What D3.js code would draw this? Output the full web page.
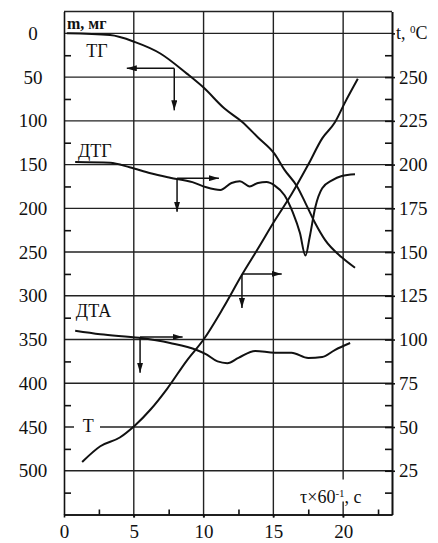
<!DOCTYPE html>
<html>
<head>
<meta charset="utf-8">
<script src="https://cdn.jsdelivr.net/npm/d3@7"></script>
<style>
    body { margin: 0; background: #fff; }
    text { font-family: "Liberation Serif", "Times New Roman", serif; fill: #111; }
    .axis path, .axis line { stroke: #111; stroke-width: 1.6; }
    .grid line { stroke: #222; stroke-width: 1.4; }
    .curve { fill: none; stroke: #111; stroke-width: 2; }
</style>
</head>
<body>
<script>
// values (time in min, TG/DTG/DTA on mass scale, T in deg C)
let tgTime = [0.2, 3.3, 5.1, 6.9, 8.8, 10, 11.5, 12.75, 13.9, 15.1, 15.8, 16.7, 17.3, 18.0, 18.7, 19.9, 20.85];
let tgMass = [0, 2, 10, 23, 46, 62, 86, 101, 119, 138, 156, 175, 194, 217, 236, 256, 268];

let dtgTime = [0.8, 3.3, 4.7, 6.2, 7.6, 9.2, 10.2, 11.2, 12.0, 12.6, 13.3, 13.9, 14.5, 15.1, 15.8, 16.4, 16.9, 17.3, 17.6, 18.0, 18.5, 19.2, 19.9, 20.85];
let dtgVal = [147, 148, 153, 160, 165, 170, 176, 179, 171, 169, 175, 171, 170, 174, 185, 205, 228, 254, 233, 199, 177, 168, 163, 161];

let dtaTime = [0.8, 2.6, 5.4, 7.6, 9.5, 10.2, 11.0, 11.7, 12.5, 13.7, 15.1, 16.3, 17.5, 18.5, 19.4, 20.5];
let dtaVal = [340, 344, 348, 354, 362, 367, 375, 377, 371, 363, 365, 365, 371, 370, 362, 354];

let tTime = [1.3, 2.6, 4.0, 5.1, 6.2, 7.4, 8.8, 10.0, 11.4, 12.75, 13.9, 15.1, 16.3, 17.5, 18.5, 19.4, 20.1, 21.05];
let tTemp = [30, 39, 44, 51, 60, 72, 88, 100, 118, 137, 152, 168, 183, 200, 215, 224, 235, 249];

let massTicks = [0, 50, 100, 150, 200, 250, 300, 350, 400, 450, 500];
let tempTicks = [25, 50, 75, 100, 125, 150, 175, 200, 225, 250];
let timeTicks = [0, 5, 10, 15, 20];

let width = 438, height = 543;

let x = d3.scaleLinear().domain([0, 23.5]).range([64, 392]);
let yL = d3.scaleLinear().domain([-25, 550]).range([11.5, 514.5]);
let yR = d3.scaleLinear().domain([287.5, 0]).range([11.5, 514.5]);

let svg = d3.select("body")
    .append("svg")
    .attr("width", width)
    .attr("height", height);

let defs = svg.append("defs");
defs.append("marker")
    .attr("id", "head")
    .attr("viewBox", "0 0 10 6")
    .attr("refX", 10)
    .attr("refY", 3)
    .attr("markerWidth", 10)
    .attr("markerHeight", 6)
    .attr("markerUnits", "userSpaceOnUse")
    .attr("orient", "auto")
    .append("path")
    .attr("d", "M0,0 L10,3 L0,6 Z")
    .attr("fill", "#111");

// grid
let grid = svg.append("g").attr("class", "grid");
grid.selectAll(".h")
    .data([-25].concat(massTicks))
    .enter().append("line")
    .attr("x1", x(0)).attr("x2", x(23.5))
    .attr("y1", d => yL(d)).attr("y2", d => yL(d));
grid.selectAll(".v")
    .data(timeTicks.slice(1))
    .enter().append("line")
    .attr("x1", d => x(d)).attr("x2", d => x(d))
    .attr("y1", yL(-25)).attr("y2", yL(550) + 3);

// left axis
let minorMass = d3.range(25, 526, 50);
svg.append("g")
    .attr("class", "axis")
    .attr("transform", "translate(" + x(0) + ",0)")
    .call(d3.axisLeft(yL).tickValues(minorMass).tickSize(-7).tickSizeOuter(0).tickFormat(""));
let left = svg.append("g")
    .attr("class", "axis")
    .attr("transform", "translate(" + x(0) + ",0)")
    .call(d3.axisLeft(yL).tickValues(massTicks).tickSize(0).tickSizeOuter(0).tickPadding(31));
left.selectAll("text")
    .style("font-size", "19px")
    .attr("font-family", null)
    .attr("text-anchor", "middle");
left.select(".domain").remove();

// right axis
let minorTemp = d3.range(12.5, 275, 25);
svg.append("g")
    .attr("class", "axis")
    .attr("transform", "translate(" + x(23.5) + ",0)")
    .call(d3.axisRight(yR).tickValues(minorTemp.concat(tempTicks)).tickSize(-7).tickSizeOuter(0).tickFormat(""));
let right = svg.append("g")
    .attr("class", "axis")
    .attr("transform", "translate(" + x(23.5) + ",0)")
    .call(d3.axisRight(yR).tickValues(tempTicks.concat([275])).tickSize(3).tickSizeOuter(0).tickPadding(4)
        .tickFormat(d => d === 275 ? "" : d));
right.selectAll("text").style("font-size", "19px").attr("font-family", null);

// bottom axis
let minorTime = d3.range(2.5, 23, 5);
svg.append("g")
    .attr("class", "axis")
    .attr("transform", "translate(0," + yL(550) + ")")
    .call(d3.axisBottom(x).tickValues(minorTime).tickSize(-5).tickSizeOuter(0).tickFormat(""));
let bottom = svg.append("g")
    .attr("class", "axis")
    .attr("transform", "translate(0," + yL(550) + ")")
    .call(d3.axisBottom(x).tickValues(timeTicks).tickSize(3).tickSizeOuter(0).tickPadding(7));
bottom.selectAll("text").style("font-size", "19px").attr("font-family", null);

// label backgrounds that break the grid
svg.append("rect")
    .attr("x", 74).attr("y", yL(450) - 8)
    .attr("width", 26).attr("height", 16)
    .attr("fill", "#fff");
svg.append("rect")
    .attr("x", 298).attr("y", yL(510))
    .attr("width", 82).attr("height", 22)
    .attr("fill", "#fff");

// curves
let line = d3.line().curve(d3.curveMonotoneX);
let lineL = function (xs, ys) {
    return line(xs.map((d, i) => [x(d), yL(ys[i])]));
};
svg.append("path").attr("class", "curve").attr("d", lineL(tgTime, tgMass));
svg.append("path").attr("class", "curve").attr("d", lineL(dtgTime, dtgVal));
svg.append("path").attr("class", "curve").attr("d", lineL(dtaTime, dtaVal));
svg.append("path").attr("class", "curve")
    .attr("d", line(tTime.map((d, i) => [x(d), yR(tTemp[i])])));

// arrows showing which axis each curve belongs to: [time, mass, horizontal end, vertical end]
let arrows = [
    [7.9, 40, 4.5, 88],
    [8.1, 165.5, 11.1, 204],
    [12.75, 275, 15.6, 314],
    [5.45, 347, 8.5, 388]
];
let arr = svg.append("g")
    .attr("stroke", "#111")
    .attr("stroke-width", 1.5);
arrows.forEach(function (a) {
    arr.append("line")
        .attr("x1", x(a[0])).attr("y1", yL(a[1]))
        .attr("x2", x(a[2])).attr("y2", yL(a[1]))
        .attr("marker-end", "url(#head)");
    arr.append("line")
        .attr("x1", x(a[0])).attr("y1", yL(a[1]))
        .attr("x2", x(a[0])).attr("y2", yL(a[3]))
        .attr("marker-end", "url(#head)");
});

// curve names
let names = [["ТГ", 1.6, 27], ["ДТГ", 1.0, 141], ["ДТА", 0.85, 324], ["T", 1.35, 456]];
svg.selectAll(".name")
    .data(names)
    .enter().append("text")
    .attr("x", d => x(d[1]))
    .attr("y", d => yL(d[2]))
    .style("font-size", "18px")
    .text(d => d[0]);

// axis titles
svg.append("text")
    .attr("x", 67).attr("y", 29)
    .style("font-size", "16px")
    .style("font-weight", "bold")
    .text("m, мг");

let tTitle = svg.append("text")
    .attr("x", 396).attr("y", yR(275) + 6)
    .style("font-size", "18px");
tTitle.append("tspan").text("t, ");
tTitle.append("tspan").attr("dy", -6).style("font-size", "11px").text("0");
tTitle.append("tspan").attr("dy", 6).text("C");

let xTitle = svg.append("text")
    .attr("x", 300).attr("y", 503)
    .style("font-size", "18px");
xTitle.append("tspan").text("τ×60");
xTitle.append("tspan").attr("dy", -6).style("font-size", "11px").text("-1");
xTitle.append("tspan").attr("dy", 6).text(", с");
</script>
</body>
</html>
